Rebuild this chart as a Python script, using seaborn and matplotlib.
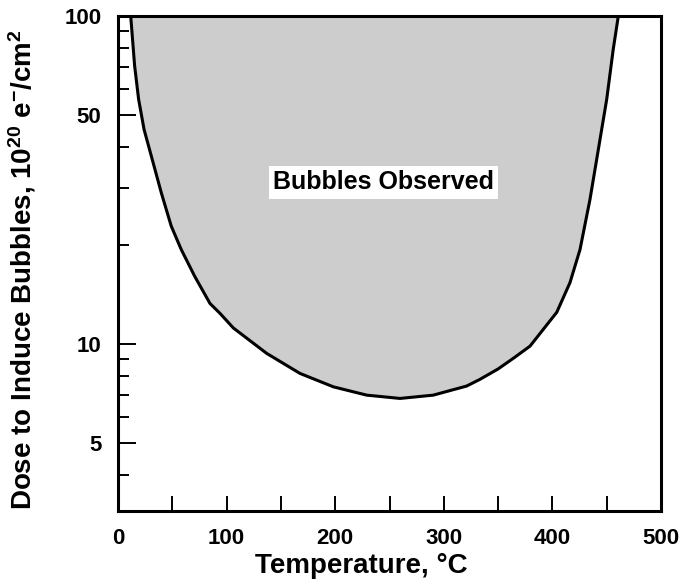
import numpy as np
import pandas as pd
import matplotlib
matplotlib.use("Agg")
import matplotlib.pyplot as plt
import seaborn as sns
from matplotlib.ticker import FixedLocator, NullFormatter, FixedFormatter

# Boundary of the "Bubbles Observed" region
temperature = [11.7, 15.3, 19, 24, 30.7, 39.9, 49, 58.3, 70.6, 84.7, 94, 106.2,
               136.9, 167.6, 198.3, 229, 259.7, 290.3, 321, 333, 350,
               365, 379.4, 404, 416.2, 425.4, 434.6, 442.3, 450, 456, 460.7]
dose = [100, 70.5, 55.7, 45.1, 37.4, 28.9, 22.9, 19.4, 16.1, 13.3, 12.4, 11.2,
        9.37, 8.14, 7.41, 6.99, 6.83, 6.99, 7.45, 7.8, 8.4,
        9.1, 9.86, 12.5, 15.4, 19.4, 27.6, 39.2, 55.7, 79.1, 100]

x_ticks = [0, 50, 100, 150, 200, 250, 300, 350, 400, 450, 500]
x_labels = ["0", "", "100", "", "200", "", "300", "", "400", "", "500"]
y_major = [5, 10, 50, 100]
y_major_labels = ["5", "10", "50", "100"]
y_minor = [4, 6, 7, 8, 9, 20, 30, 40, 60, 70, 80, 90]

label_text = "Bubbles Observed"
label_pos = (244.6, 31.1)

sns.set_style("white")
plt.rcParams["font.family"] = ["Liberation Sans", "DejaVu Sans"]
plt.rcParams["font.weight"] = "bold"
plt.rcParams["text.color"] = "black"
plt.rcParams["axes.labelcolor"] = "black"
plt.rcParams["mathtext.fontset"] = "custom"
plt.rcParams["mathtext.rm"] = "Liberation Sans:bold"
plt.rcParams["mathtext.bf"] = "Liberation Sans:bold"
plt.rcParams["mathtext.default"] = "bf"

fig = plt.figure(figsize=(6.83, 5.86), dpi=100)
ax = fig.add_axes([118 / 683, 1 - 511 / 586, 543 / 683, 495 / 586])

df = pd.DataFrame({"T": temperature, "D": dose})
ax.fill(df["T"], df["D"], facecolor="#cdcdcd", edgecolor="none", zorder=1)
sns.lineplot(data=df, x="T", y="D", sort=False, color="black", lw=2.2, ax=ax,
             zorder=3)

ax.set_yscale("log")
ax.set_xlim(0, 500)
ax.set_ylim(3.1, 100)

ax.xaxis.set_major_locator(FixedLocator(x_ticks))
ax.xaxis.set_major_formatter(FixedFormatter(x_labels))
ax.yaxis.set_major_locator(FixedLocator(y_major))
ax.yaxis.set_major_formatter(FixedFormatter(y_major_labels))
ax.yaxis.set_minor_locator(FixedLocator(y_minor))
ax.yaxis.set_minor_formatter(NullFormatter())

ax.tick_params(axis="x", which="major", direction="in", length=11, width=1.4,
               labelsize=16, pad=12, colors="black", bottom=True)
ax.tick_params(axis="y", which="major", direction="in", length=13, width=1.4,
               labelsize=16, pad=12, colors="black", left=True)
ax.tick_params(axis="y", which="minor", direction="in", length=8, width=1.4,
               colors="black", left=True)

for s in ax.spines.values():
    s.set_color("black")
    s.set_linewidth(2.2)
    s.set_zorder(4)

ax.set_xlabel("Temperature, °C", fontsize=20, fontweight="bold", color="black")
ax.set_ylabel(r"Dose to Induce Bubbles, 10$^{20}$ e$^{-}$/cm$^{2}$",
              fontsize=20, fontweight="bold", color="black")
ax.xaxis.set_label_coords(0.448, -0.085)
ax.yaxis.set_label_coords(-0.147, 0.487)

ax.text(label_pos[0], label_pos[1], label_text, fontsize=18, fontweight="bold",
        ha="center", va="center", zorder=5, color="black",
        bbox=dict(facecolor="white", edgecolor="none", pad=3))

fig.savefig("out.png", dpi=100)
